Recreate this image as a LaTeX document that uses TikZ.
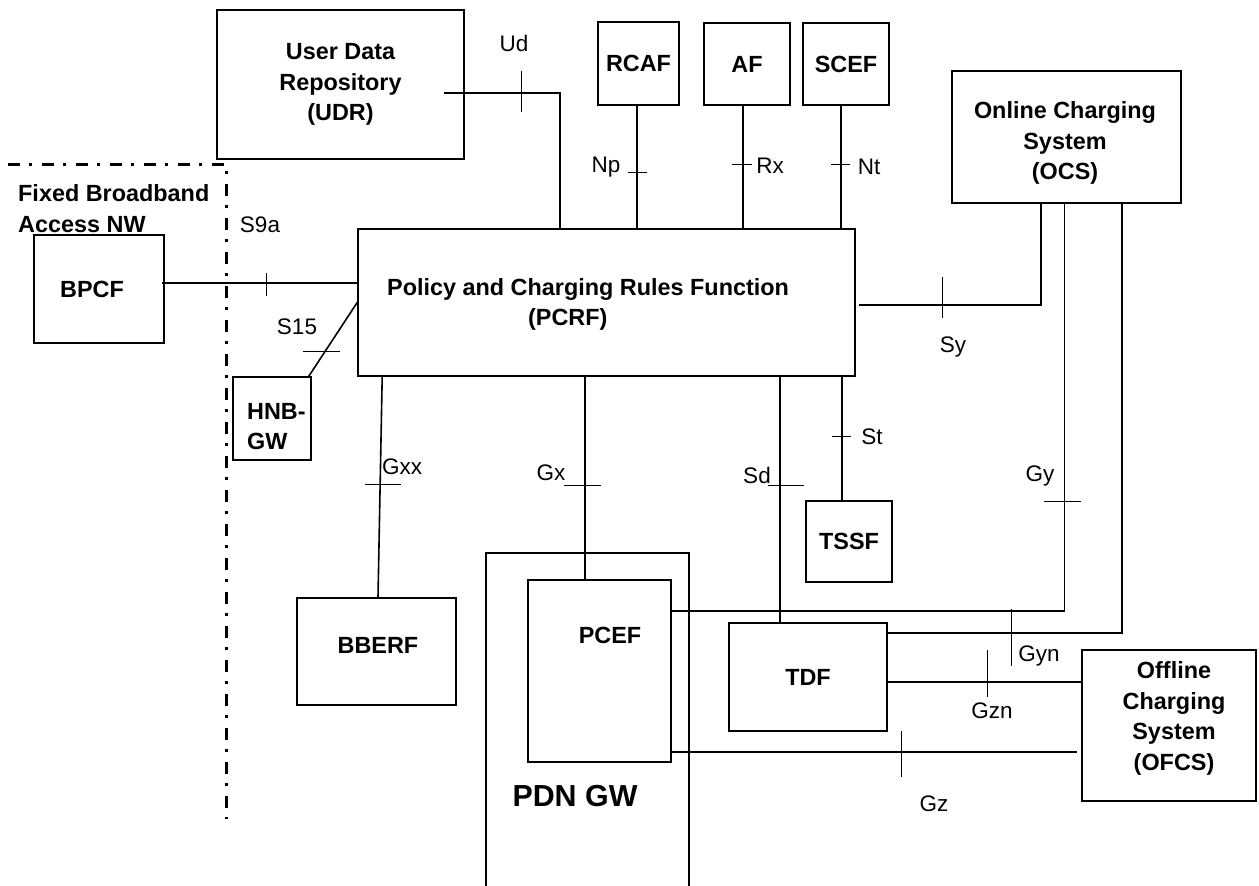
\documentclass[tikz,border=0pt]{standalone}
\usepackage{fontspec}
\setmainfont{Liberation Sans}
\usetikzlibrary{positioning,calc}

\begin{document}
\begin{tikzpicture}[x=1pt,y=-1pt]
                    \tikzstyle{box}=[draw,rectangle,line width=1.6,inner sep=0]
                    \tikzstyle{title}=[font=\fontsize{23.4}{30.5}\selectfont\bfseries,align=center,inner sep=0]
                    \tikzstyle{iface}=[font=\fontsize{22.5}{27}\selectfont,inner sep=0]
                    \tikzstyle{link}=[line width=1.6]
                    \tikzstyle{tick}=[line width=1]
                    \tikzstyle{fence}=[line width=3,dash pattern=on 12pt off 9pt on 3pt off 10pt]
                    {
                        \path[use as bounding box,fill=white] (0,0) rectangle (1259,886);

                        \node[box,minimum width=247,minimum height=149,title] (udr) at (340.5,84.5) {User Data\\Repository\\(UDR)};
                        \node[box,minimum width=81,minimum height=83,title] (rcaf) at (638.5,63.5) {RCAF};
                        \node[box,minimum width=86,minimum height=82,title] (af) at (747,64) {AF};
                        \node[box,minimum width=86,minimum height=82,title] (scef) at (846,64) {SCEF};
                        \node[box,minimum width=229,minimum height=132] (ocs) at (1066.5,137) {};
                        \node[title] (ocstext) at (1065,143) {Online Charging\\System\\(OCS)};

                        \node[box,minimum width=497,minimum height=147] (pcrf) at (606.5,302.5) {};
                        \node[title,align=left,anchor=west] (pcrftext) at (387,304.5) {Policy and Charging Rules Function\\\hspace*{141pt}(PCRF)};

                        \node[title,align=left,anchor=west] (fbnw) at (18,208.5) {\fontsize{23.4}{27}\selectfont Fixed Broadband\\Access NW};
                        \node[box,minimum width=130,minimum height=108] (bpcf) at (99,289) {};
                        \node[title] (bpcftext) at (92,289) {BPCF};
                        \node[box,minimum width=78,minimum height=83] (hnb) at (272,418.5) {};
                        \node[title,align=left,anchor=west] (hnbtext) at (247,426.5) {\fontsize{23.4}{27}\selectfont HNB-\\GW};
                        \node[box,minimum width=159,minimum height=107] (bberf) at (376.5,651.5) {};
                        \node[title] (bberftext) at (378,645) {BBERF};

                        \node[box,minimum width=203,minimum height=343] (pdngw) at (587.5,724.5) {};
                        \node[title,font=\fontsize{30.4}{36}\selectfont\bfseries] (pdngwtext) at (575,796) {PDN GW};
                        \node[box,minimum width=143,minimum height=182] (pcef) at (599.5,671) {};
                        \node[title] (pceftext) at (610,635) {PCEF};
                        \node[box,minimum width=158,minimum height=108,title] (tdf) at (808,677) {TDF};
                        \node[box,minimum width=86,minimum height=81,title] (tssf) at (849,541.5) {TSSF};
                        \node[box,minimum width=174,minimum height=151] (ofcs) at (1169,725.5) {};
                        \node[title] (ofcstext) at (1174,718.5) {Offline\\Charging\\System\\(OFCS)};

                        \draw[fence] (8,164) -| (226,819);

                        \coordinate (udrport) at ([xshift=-21,yshift=67]udr.south east);
                        \coordinate (udfoot) at ([xshift=203]pcrf.north west);
                        \coordinate (rcafport) at ([xshift=-1.5]rcaf.south);
                        \coordinate (afport) at ([xshift=-4]af.south);
                        \coordinate (scefport) at ([xshift=-5]scef.south);
                        \coordinate (bpcfport) at ([xshift=-3,yshift=6]bpcf.east);
                        \coordinate (hnbport) at ([xshift=-3]hnb.north east);
                        \coordinate (pcrfsy) at ([xshift=3,yshift=-2.5]pcrf.east);
                        \coordinate (ocssy) at ([xshift=-25.5]ocs.south);
                        \coordinate (ocsgy) at ([xshift=-2]ocs.south);
                        \coordinate (ocsgyn) at ([xshift=55.5]ocs.south);
                        \coordinate (pcefgy) at ([yshift=-32]pcef.north east);
                        \coordinate (tdfgyn) at ([yshift=-11]tdf.north east);
                        \coordinate (tdfgzn) at ([yshift=-5]tdf.east);
                        \coordinate (pcefgz) at ([yshift=11]pcef.south east);
                        \coordinate (ofcsgz) at ($(pcefgz -| ofcs.west)+(-4,0)$);
                        \coordinate (pcefgx) at ([xshift=-14.5]pcef.north);
                        \coordinate (pcrfgxx) at ([xshift=25]pcrf.south west);
                        \coordinate (tdfsd) at ([xshift=-28]tdf.north);
                        \coordinate (tssfst) at ([xshift=-7]tssf.north);

                        \draw[link] (udrport) -| (udfoot);
                        \draw[link] (rcafport) -- (rcafport |- pcrf.north);
                        \draw[link] (afport) -- (afport |- pcrf.north);
                        \draw[link] (scefport) -- (scefport |- pcrf.north);
                        \draw[link] (bpcfport) -- (bpcfport -| pcrf.west);
                        \draw[link] (hnbport) -- (pcrf.west);
                        \draw[link] (pcrfsy) -| (ocssy);
                        \draw[link] (ocsgy) |- (pcefgy);
                        \draw[link] (ocsgyn) |- (tdfgyn);
                        \draw[link] (tdfgzn) -- (tdfgzn -| ofcs.west);
                        \draw[link] (pcefgz) -- (ofcsgz);
                        \draw[link] (pcefgx) -- (pcefgx |- pcrf.south);
                        \draw[link] (pcrfgxx) -- ([xshift=1.5]bberf.north);
                        \draw[link] (tdfsd) -- (tdfsd |- pcrf.south);
                        \draw[link] (tssfst) -- (tssfst |- pcrf.south);

                        \draw[tick] (521,71) -- (521,112);
                        \draw[tick] (628,172) -- (647,172);
                        \draw[tick] (732,164) -- (752,164);
                        \draw[tick] (831,164) -- (850,164);
                        \draw[tick] (266,273) -- (266,296);
                        \draw[tick] (303,351) -- (340,351);
                        \draw[tick] (942,277) -- (942,318);
                        \draw[tick] (365,484) -- (401,484);
                        \draw[tick] (564,485) -- (601,485);
                        \draw[tick] (768,485) -- (804,485);
                        \draw[tick] (832,436) -- (851,436);
                        \draw[tick] (1044,501) -- (1081,501);
                        \draw[tick] (1011,609) -- (1011,666);
                        \draw[tick] (987,650) -- (987,697);
                        \draw[tick] (901,731) -- (901,777);

                        \node[iface] (ud) at (514,43) {Ud};
                        \node[iface] (np) at (606,167) {Np};
                        \node[iface] (rx) at (770,166) {Rx};
                        \node[iface] (nt) at (869,167) {Nt};
                        \node[iface] (s9a) at (260,225) {S9a};
                        \node[iface] (s15) at (297,327) {S15};
                        \node[iface] (sy) at (953,347) {Sy};
                        \node[iface] (gxx) at (402,467) {Gxx};
                        \node[iface] (gx) at (551,473) {Gx};
                        \node[iface] (sd) at (757,475) {Sd};
                        \node[iface] (st) at (872,437) {St};
                        \node[iface] (gy) at (1040,476) {Gy};
                        \node[iface] (gyn) at (1039,656) {Gyn};
                        \node[iface] (gzn) at (992,711) {Gzn};
                        \node[iface] (gz) at (934,804) {Gz};
                    }
\end{tikzpicture}
\end{document}
